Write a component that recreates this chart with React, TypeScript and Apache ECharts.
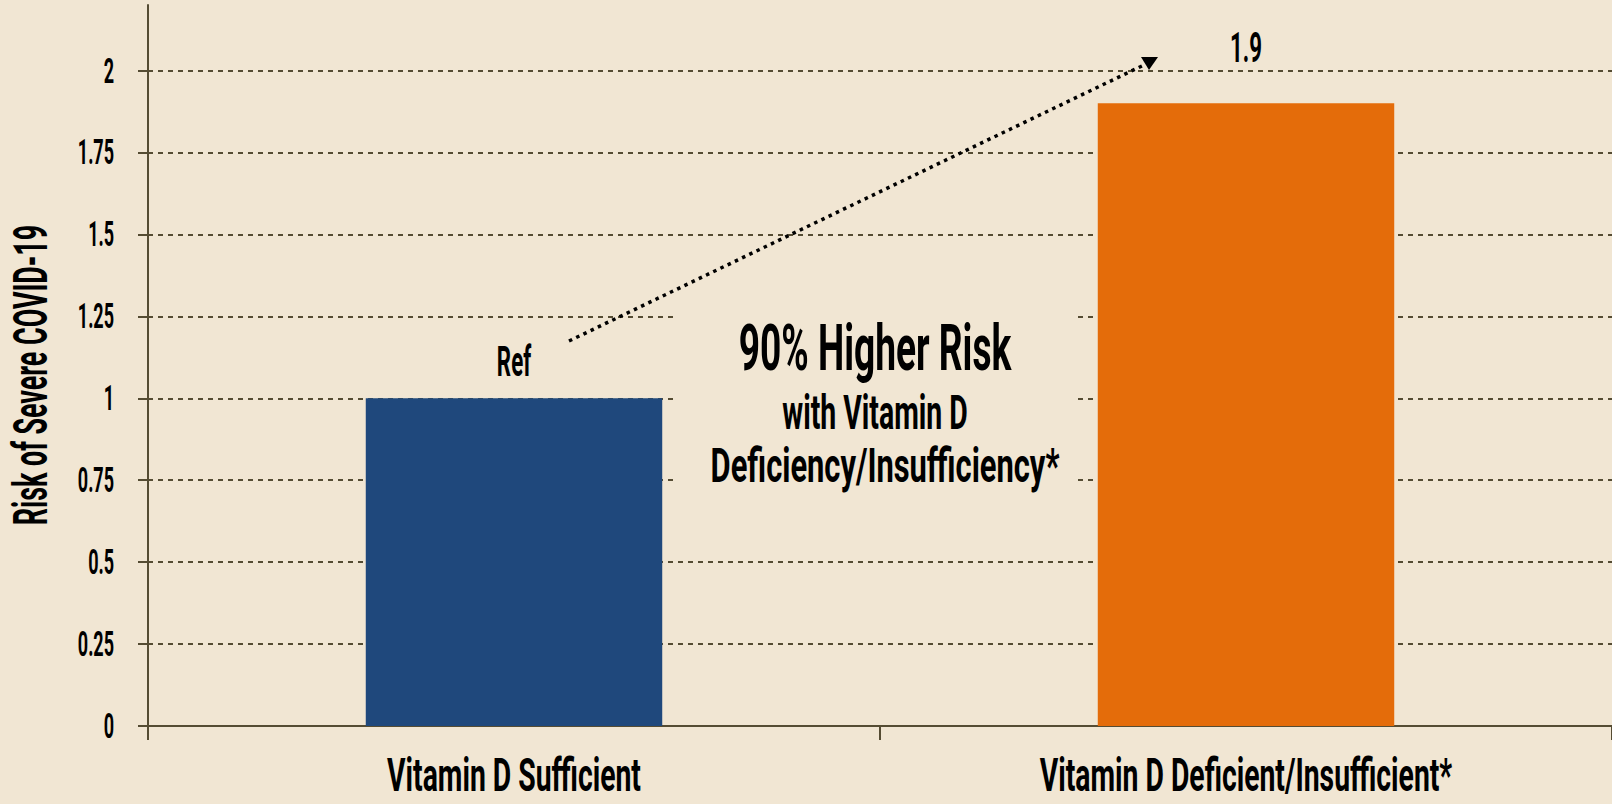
import React, { useEffect, useRef } from "react";
import * as echarts from "echarts";

const categories = ["Vitamin D Sufficient", "Vitamin D Deficient/Insufficient*"];
const riskValues = [1, 1.9];
const barLabels = ["Ref", "1.9"];
const yTickValues = [0, 0.25, 0.5, 0.75, 1, 1.25, 1.5, 1.75, 2];
const yAxisTitle = "Risk of Severe COVID-19";
const annotationLines = ["90% Higher Risk", "with Vitamin D", "Deficiency/Insufficiency*"];

const BG = "#F1E6D3";
const AXIS = "#554C33";
const FONT = 'Roboto, "DejaVu Sans", sans-serif';
const barColors = ["#1F487C", "#E46C0A"];
const barLabelOffsets = [37, 56];
const GRID_LEFT = 148;

function txt(text: string, x: number, y: number, size: number, sx: number, align: string, extra: any = {}, lineHeight?: number) {
  return {
    type: "text",
    z: 10,
    silent: true,
    x,
    y,
    scaleX: sx,
    ...extra,
    style: {
      text,
      font: `bold ${size}px ${FONT}`,
      fill: "#000",
      align,
      verticalAlign: "middle",
      ...(lineHeight ? { lineHeight } : {}),
    },
  };
}

export default function App() {
  const ref = useRef<HTMLDivElement>(null);
  useEffect(() => {
    document.body.style.margin = "0";
    document.body.style.background = BG;
    const chart = echarts.init(ref.current!, null, { renderer: "svg" });
    const option: any = {
      animation: false,
      backgroundColor: BG,
      grid: { left: GRID_LEFT, right: -2, top: 5, bottom: 78, containLabel: false },
      xAxis: {
        type: "category",
        data: categories,
        axisLine: { lineStyle: { color: AXIS, width: 2 } },
        axisTick: { show: true, length: 14, lineStyle: { color: AXIS, width: 2 } },
        axisLabel: { show: false },
        splitLine: { show: false },
      },
      yAxis: {
        type: "value",
        min: 0,
        max: 2.2,
        interval: 0.25,
        axisLine: { show: true, lineStyle: { color: AXIS, width: 2 } },
        axisTick: {
          show: true,
          length: 10,
          customValues: yTickValues,
          lineStyle: { color: AXIS, width: 2 },
        },
        axisLabel: { show: false, customValues: yTickValues },
        splitLine: {
          show: true,
          lineStyle: { color: AXIS, width: 2, type: [5, 5] },
        },
      },
      series: [
        {
          type: "bar",
          barWidth: "40.5%",
          data: riskValues.map((v, i) => ({
            value: v,
            itemStyle: { color: barColors[i] },
          })),
        },
      ],
    };
    chart.setOption(option);

    const yPix = (v: number) => chart.convertToPixel({ yAxisIndex: 0 }, v) as number;
    const xPix = (c: string) => chart.convertToPixel({ xAxisIndex: 0 }, c) as number;
    const y0 = yPix(0);

    const graphics: any[] = [
      {
        type: "rect",
        z: 1,
        silent: true,
        shape: { x: 673, y: 300, width: 404, height: 205 },
        style: { fill: BG },
      },
      {
        type: "line",
        z: 10,
        silent: true,
        shape: { x1: 569, y1: 341, x2: 1146, y2: 64 },
        style: { stroke: "#000", lineWidth: 3.5, lineDash: [3.5, 4.5] },
      },
      {
        type: "polygon",
        z: 10,
        silent: true,
        shape: { points: [[1141, 57], [1158, 57], [1149, 70]] },
        style: { fill: "#000" },
      },
      txt(annotationLines[0], 875, 348, 64, 0.58, "center"),
      txt(annotationLines[1], 875, 412, 49, 0.58, "center"),
      txt(annotationLines[2], 885, 465, 49, 0.63, "center"),
      // y axis title
      txt(yAxisTitle, 30, 375, 48, 0.56, "center", { rotation: Math.PI / 2 }),
    ];
    // y tick labels
    yTickValues.forEach((v) => {
      graphics.push(txt(String(v), GRID_LEFT - 34, yPix(v), 36, 0.5, "right"));
    });
    // x category labels
    categories.forEach((c) => {
      graphics.push(txt(c, xPix(c), y0 + 49.5, 46, 0.616, "center", {}, 40));
    });
    // bar value labels
    riskValues.forEach((v, i) => {
      graphics.push(txt(barLabels[i], xPix(categories[i]), yPix(v) - barLabelOffsets[i], 42, 0.53, "center"));
    });

    chart.setOption({ graphic: graphics });
    return () => chart.dispose();
  }, []);
  return <div ref={ref} style={{ width: 1612, height: 804 }} />;
}
